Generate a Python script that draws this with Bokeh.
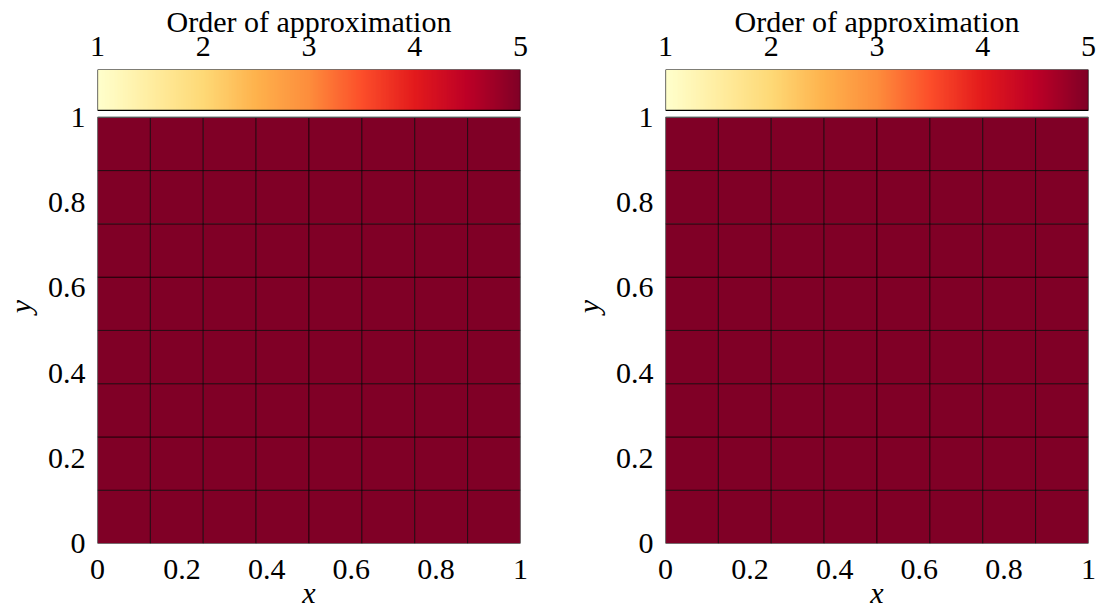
import numpy as np
from bokeh.plotting import figure
from bokeh.layouts import row
from bokeh.models import (Range1d, FixedTicker, LinearColorMapper, ColumnDataSource,
                          LinearAxis)
from bokeh.transform import linear_cmap
from bokeh.embed import file_html
from bokeh.resources import INLINE
from bokeh.palettes import YlOrRd9

# ---- data ----
x_edges = [0.0, 0.125, 0.25, 0.375, 0.5, 0.625, 0.75, 0.875, 1.0]
y_edges = [0.0, 0.125, 0.25, 0.375, 0.5, 0.625, 0.75, 0.875, 1.0]
# order of approximation per cell (rows = y from bottom, cols = x from left)
order_left = [
    [5, 5, 5, 5, 5, 5, 5, 5],
    [5, 5, 5, 5, 5, 5, 5, 5],
    [5, 5, 5, 5, 5, 5, 5, 5],
    [5, 5, 5, 5, 5, 5, 5, 5],
    [5, 5, 5, 5, 5, 5, 5, 5],
    [5, 5, 5, 5, 5, 5, 5, 5],
    [5, 5, 5, 5, 5, 5, 5, 5],
    [5, 5, 5, 5, 5, 5, 5, 5],
]
order_right = [
    [5, 5, 5, 5, 5, 5, 5, 5],
    [5, 5, 5, 5, 5, 5, 5, 5],
    [5, 5, 5, 5, 5, 5, 5, 5],
    [5, 5, 5, 5, 5, 5, 5, 5],
    [5, 5, 5, 5, 5, 5, 5, 5],
    [5, 5, 5, 5, 5, 5, 5, 5],
    [5, 5, 5, 5, 5, 5, 5, 5],
    [5, 5, 5, 5, 5, 5, 5, 5],
]
axis_ticks = [0, 0.2, 0.4, 0.6, 0.8, 1]
axis_tick_labels = ["0", "0.2", "0.4", "0.6", "0.8", "1"]
cbar_ticks = [1, 2, 3, 4, 5]
cbar_tick_labels = ["1", "2", "3", "4", "5"]
order_low, order_high = 1, 5
cbar_title = "Order of approximation"

# ---- palette (smooth YlOrRd) ----
base = list(reversed(YlOrRd9))  # light -> dark
def _interp(pal, n):
    rgb = np.array([[int(c[i:i + 2], 16) for i in (1, 3, 5)] for c in pal], float)
    pos = np.linspace(0, 1, len(pal))
    t = np.linspace(0, 1, n)
    out = []
    for tt in t:
        r, g, b = (np.interp(tt, pos, rgb[:, k]) for k in range(3))
        out.append("#%02x%02x%02x" % (int(round(r)), int(round(g)), int(round(b))))
    return out
palette = _interp(base, 256)

FONT = "Liberation Serif"
FS = "30px"

# ---- layout (pixels) ----
H = 611
TOP = 69            # top of colorbar
CB_BOTTOM_PX = 110  # bottom of colorbar
PLOT_TOP_PX = 117   # top of main plot
PLOT_BOT_PX = 545   # bottom of main plot
BOTTOM = H - PLOT_BOT_PX
unit = PLOT_BOT_PX - PLOT_TOP_PX
y_end = 1 + (PLOT_TOP_PX - TOP) / unit
cb_bottom = 1 + (PLOT_TOP_PX - CB_BOTTOM_PX) / unit


def style_axis(ax, italic_label):
    ax.axis_line_color = None
    ax.major_tick_line_color = None
    ax.minor_tick_line_color = None
    ax.major_label_text_font = FONT
    ax.major_label_text_font_size = FS
    ax.major_label_text_color = "black"
    ax.axis_label_text_font = FONT
    ax.axis_label_text_font_size = FS
    ax.axis_label_text_color = "black"
    ax.axis_label_text_font_style = "italic" if italic_label else "normal"


def make_panel(order, left, right, width):
    p = figure(width=width, height=H, x_range=Range1d(0, 1), y_range=Range1d(0, y_end),
               output_backend="svg", toolbar_location=None,
               min_border_left=left, min_border_right=right,
               min_border_top=TOP, min_border_bottom=BOTTOM)
    p.extra_x_ranges = {"cb": Range1d(order_low, order_high)}
    p.grid.visible = False
    p.outline_line_color = None

    # cells
    lefts, rights, bottoms, tops, vals = [], [], [], [], []
    for j in range(len(y_edges) - 1):
        for i in range(len(x_edges) - 1):
            lefts.append(x_edges[i]); rights.append(x_edges[i + 1])
            bottoms.append(y_edges[j]); tops.append(y_edges[j + 1])
            vals.append(order[j][i])
    src = ColumnDataSource(dict(left=lefts, right=rights, bottom=bottoms, top=tops, order=vals))
    p.quad(left="left", right="right", bottom="bottom", top="top", source=src,
           fill_color=linear_cmap("order", palette, order_low, order_high),
           line_color="black", line_width=0.8, line_alpha=0.8)
    # plot frame
    p.quad(left=[x_edges[0]], right=[x_edges[-1]], bottom=[y_edges[0]], top=[y_edges[-1]],
           fill_color=None, line_color="#555555", line_width=1.2)

    # colorbar
    mapper = LinearColorMapper(palette=palette, low=order_low, high=order_high)
    grad = np.linspace(order_low, order_high, 512).reshape(1, -1)
    p.image(image=[grad], x=order_low, y=cb_bottom, dw=order_high - order_low,
            dh=y_end - cb_bottom, color_mapper=mapper, x_range_name="cb")
    p.quad(left=[order_low], right=[order_high], bottom=[cb_bottom], top=[y_end],
           fill_color=None, line_color="black", line_width=1.2, x_range_name="cb")

    xax = p.below[0]
    yax = p.left[0]
    for ax in (xax, yax):
        ax.ticker = FixedTicker(ticks=axis_ticks)
        ax.major_label_overrides = {t: l for t, l in zip(axis_ticks, axis_tick_labels)}
        style_axis(ax, True)
    xax.axis_label = "x"
    yax.axis_label = "y"
    xax.major_label_standoff = 10
    xax.axis_label_standoff = -6
    yax.major_label_standoff = 6
    yax.axis_label_standoff = 8

    cax = LinearAxis(x_range_name="cb", ticker=FixedTicker(ticks=cbar_ticks),
                     axis_label=cbar_title)
    cax.major_label_overrides = {t: l for t, l in zip(cbar_ticks, cbar_tick_labels)}
    style_axis(cax, False)
    cax.major_label_standoff = 8
    cax.axis_label_standoff = -4
    p.add_layout(cax, "above")
    return p


p1 = make_panel(order_left, 96, 48, 568)
p2 = make_panel(order_right, 96, 8, 528)

layout = row(p1, p2, spacing=0)
open("out.html", "w").write(file_html(layout, INLINE))
